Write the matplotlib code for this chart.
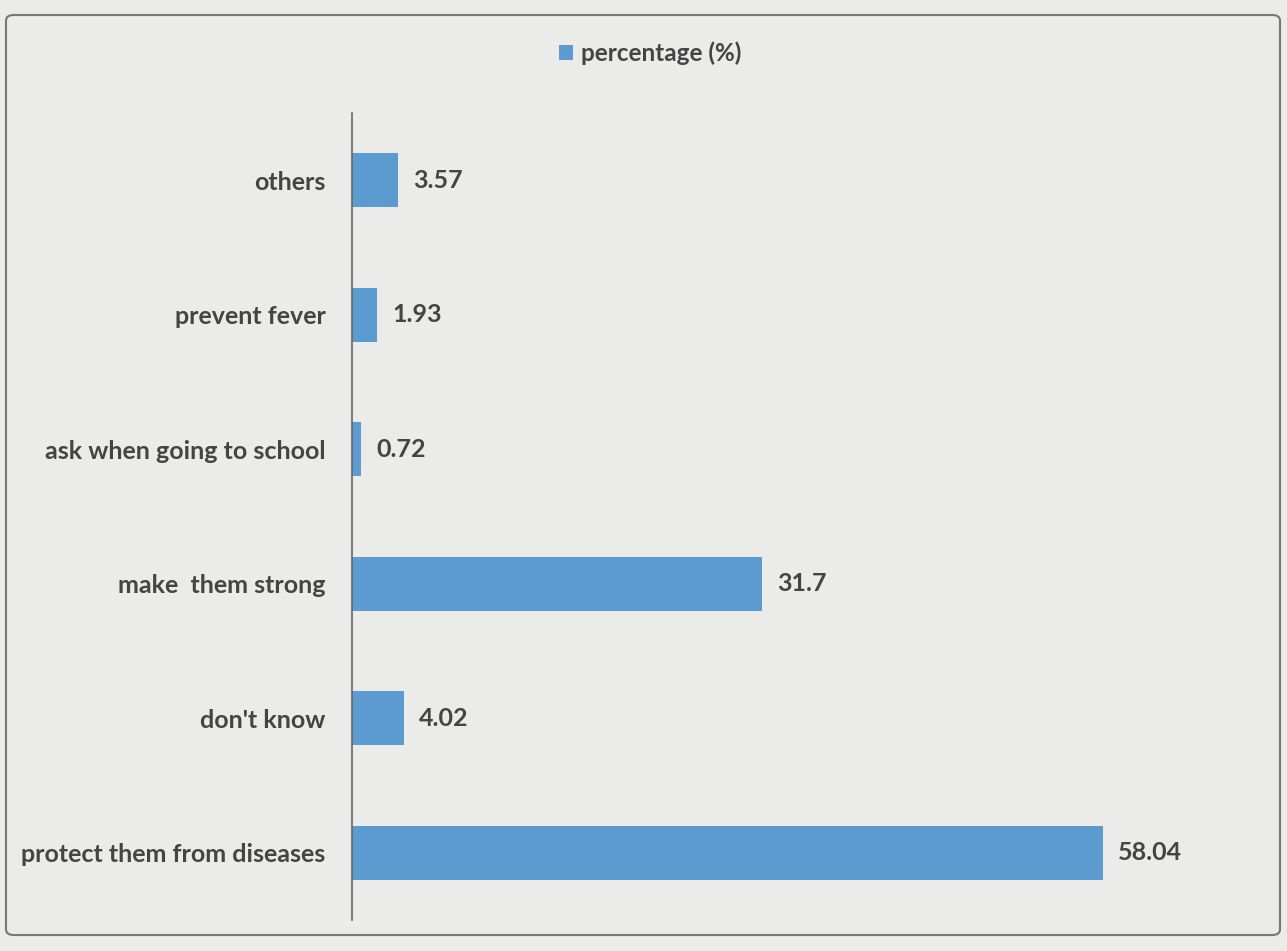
import numpy as np
import matplotlib.pyplot as plt
from matplotlib.patches import FancyBboxPatch

# data (top to bottom in the picture)
categories = ['others', 'prevent fever', 'ask when going to school',
              'make  them strong', "don't know", 'protect them from diseases']
values = [3.57, 1.93, 0.72, 31.7, 4.02, 58.04]
value_labels = ['3.57', '1.93', '0.72', '31.7', '4.02', '58.04']

bar_color = '#5b9bcf'
text_color = '#444444'
plt.rcParams['font.family'] = ['Lato', 'DejaVu Sans']

fig = plt.figure(figsize=(12.87, 9.51), dpi=100)
fig.patch.set_facecolor('#ebebea')

# scanned frame around the chart
frame = FancyBboxPatch((6 / 1287, 16 / 951), 1274 / 1287, 920 / 951,
                       boxstyle='round,pad=0,rounding_size=0.006',
                       transform=fig.transFigure, fill=False,
                       edgecolor='#777777', linewidth=1.5)
fig.patches.append(frame)

ax = fig.add_axes([352 / 1287, 31 / 951, 841 / 1287, 807 / 951])
ax.set_facecolor('none')

y = np.arange(len(categories))
bars = ax.barh(y, values, height=0.4, color=bar_color, label='percentage (%)')
ax.set_ylim(len(categories) - 0.5, -0.5)
ax.set_xlim(0, 65)

ax.set_yticks(y)
ax.set_yticklabels(categories, fontsize=18, fontweight='bold', color=text_color)
ax.tick_params(axis='y', length=0, pad=19)
ax.set_xticks([])

for s in ['top', 'right', 'bottom']:
    ax.spines[s].set_visible(False)
ax.spines['left'].set_color('#666666')
ax.spines['left'].set_linewidth(1.2)

for b, lab in zip(bars, value_labels):
    ax.annotate(lab, (b.get_width(), b.get_y() + b.get_height() / 2),
                xytext=(11, 0), textcoords='offset points', va='center', ha='left',
                fontsize=18, fontweight='bold', color=text_color)

fig.legend(loc='center', bbox_to_anchor=(650 / 1287, 1 - 53 / 951), frameon=False,
           handlelength=0.6, handleheight=0.6, handletextpad=0.3,
           prop={'size': 17.5, 'weight': 'bold'}, labelcolor=text_color)

fig.savefig('out.png', dpi=100, facecolor=fig.get_facecolor())
